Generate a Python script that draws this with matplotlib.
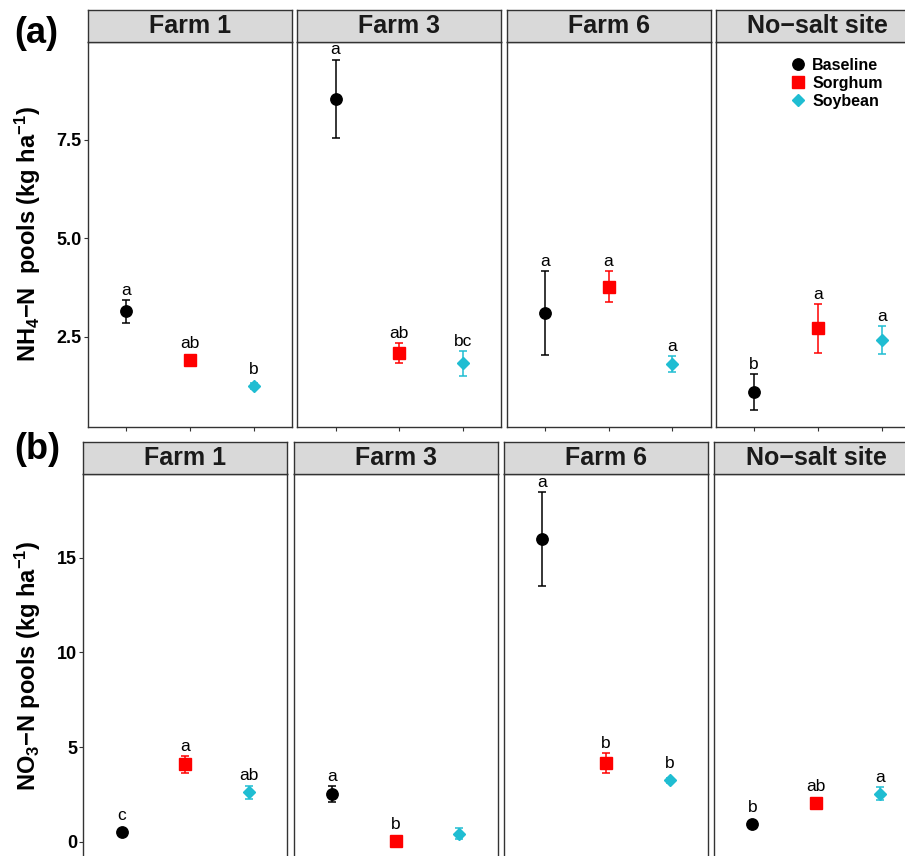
import matplotlib
matplotlib.use("Agg")
import matplotlib.pyplot as plt
from matplotlib.lines import Line2D

plt.rcParams['font.family'] = ['Liberation Sans', 'DejaVu Sans']
plt.rcParams['mathtext.default'] = 'regular'

farms = ["Farm 1", "Farm 3", "Farm 6", "No\u2212salt site"]
treatments = ["Baseline", "Sorghum", "Soybean"]
colors = ["black", "#FF0000", "#1FBDD2"]
markers = ["o", "s", "D"]
msizes = [8.2, 8.2, 5.8]

# NH4-N pools (kg/ha), mean and SE per farm: Baseline, Sorghum, Soybean
nh4_mean = [[3.15, 1.92, 1.26], [8.535, 2.095, 1.83], [3.10, 3.775, 1.82], [1.11, 2.715, 2.425]]
nh4_se = [[0.29, 0.10, 0.08], [1.0, 0.245, 0.32], [1.06, 0.40, 0.20], [0.45, 0.625, 0.355]]
nh4_letters = [["a", "ab", "b"], ["a", "ab", "bc"], ["a", "a", "a"], ["b", "a", "a"]]

# NO3-N pools (kg/ha)
no3_mean = [[0.53, 4.09, 2.61], [2.52, 0.04, 0.44], [16.0, 4.16, 3.24], [0.94, 2.03, 2.55]]
no3_se = [[0.10, 0.44, 0.33], [0.43, 0.02, 0.30], [2.49, 0.51, 0.12], [0.08, 0.10, 0.32]]
no3_letters = [["c", "a", "ab"], ["a", "b", ""], ["a", "b", "b"], ["b", "ab", "a"]]

W, H = 905, 856
fig = plt.figure(figsize=(W / 100, H / 100), dpi=100)


def rect(l, t, w, h):
    return [l / W, 1 - (t + h) / H, w / W, h / H]


def expand(means, ses):
    lo = min(m - s for row, srow in zip(means, ses) for m, s in zip(row, srow))
    hi = max(m + s for row, srow in zip(means, ses) for m, s in zip(row, srow))
    pad = 0.05 * (hi - lo)
    return lo - pad, hi + pad


def draw_row(means, ses, letters, yticks, yticklabels, left0, step, strip_top, panel_top):
    ylim = expand(means, ses)
    axes = []
    for i, farm in enumerate(farms):
        left = left0 + i * step
        ax = fig.add_axes(rect(left, panel_top, 204, 385))
        ax.set_xlim(0.4, 3.6)
        ax.set_ylim(ylim)
        for j in range(3):
            m, s = means[i][j], ses[i][j]
            ax.errorbar(j + 1, m, yerr=s, fmt=markers[j], color=colors[j], ms=msizes[j],
                        mec=colors[j], mfc=colors[j],
                        capsize=2.7, elinewidth=1.1, capthick=1.1)
            p0 = ax.transData.transform((j + 1, m))[1]
            p1 = ax.transData.transform((j + 1, m + s))[1]
            dy = p1 - p0
            off = max(dy + 5, 12) - dy
            if letters[i][j]:
                ax.annotate(letters[i][j], (j + 1, m + s), xytext=(0, off),
                            textcoords='offset pixels', ha='center', va='baseline',
                            fontsize=12.5, color='black')
        ax.set_xticks([1, 2, 3])
        ax.set_xticklabels([])
        ax.tick_params(axis='x', length=3, width=0.8, color='#333333')
        if i == 0:
            ax.set_yticks(yticks)
            ax.set_yticklabels(yticklabels, fontsize=13, fontweight='bold', color='black')
            ax.tick_params(axis='y', length=3, width=0.8, color='#333333', pad=1.5)
        else:
            ax.set_yticks([])
        for sp in ax.spines.values():
            sp.set_color('#333333')
            sp.set_linewidth(1.0)
        sax = fig.add_axes(rect(left, strip_top, 204, panel_top - strip_top))
        sax.set_facecolor('#D9D9D9')
        sax.set_xticks([])
        sax.set_yticks([])
        for sp in sax.spines.values():
            sp.set_color('#333333')
            sp.set_linewidth(1.0)
        sax.text(0.5, 0.5, farm, ha='center', va='center', fontsize=18,
                 fontweight='bold', color='#1A1A1A', transform=sax.transAxes)
        axes.append(ax)
    return axes


top_axes = draw_row(nh4_mean, nh4_se, nh4_letters, [2.5, 5.0, 7.5], ["2.5", "5.0", "7.5"],
                    88, 209.3, 10, 42)
bot_axes = draw_row(no3_mean, no3_se, no3_letters, [0, 5, 10, 15], ["0", "5", "10", "15"],
                    83.3, 210.3, 441.7, 474)

handles = [Line2D([], [], marker=markers[j], color=colors[j], ls='none', ms=msizes[j])
           for j in range(3)]
top_axes[3].legend(handles, treatments, loc='upper left',
                   bbox_to_anchor=(782 / W, 1 - 50 / H), bbox_transform=fig.transFigure,
                   frameon=False, prop={'weight': 'bold', 'size': 11.5},
                   handlelength=1.0, handletextpad=0.4, labelspacing=0.18, borderpad=0)

fig.text(28 / W, 1 - 234 / H, 'NH$_4$\u2212N  pools (kg ha$^{-1}$)', rotation=90,
         ha='center', va='center', fontsize=17, fontweight='bold')
fig.text(28 / W, 1 - 666 / H, 'NO$_3$\u2212N pools (kg ha$^{-1}$)', rotation=90,
         ha='center', va='center', fontsize=17, fontweight='bold')

fig.text(14 / W, 1 - 33.5 / H, '(a)', ha='left', va='center', fontsize=26, fontweight='bold')
fig.text(14 / W, 1 - 449.5 / H, '(b)', ha='left', va='center', fontsize=26, fontweight='bold')

fig.savefig("out.png", dpi=100)
